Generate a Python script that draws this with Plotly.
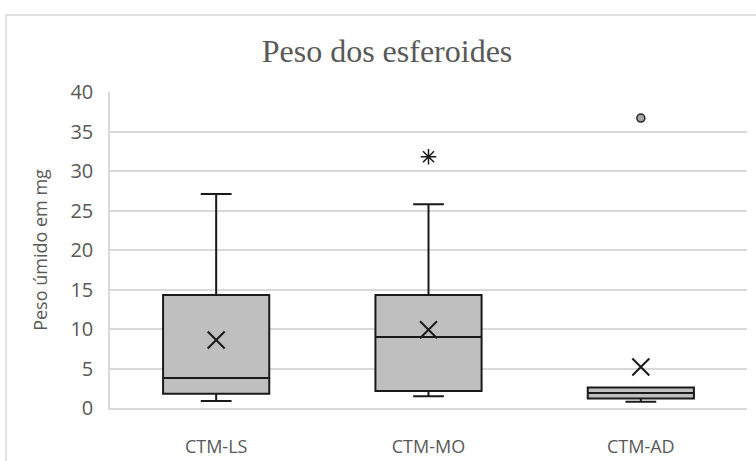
import plotly.graph_objects as go

categories = ["CTM-LS", "CTM-MO", "CTM-AD"]
q1 = [1.8, 2.15, 1.2]
median = [3.8, 9.0, 1.9]
q3 = [14.3, 14.3, 2.6]
lower = [0.9, 1.5, 0.8]
upper = [27.1, 25.8, 2.6]
means = [8.6, 9.9, 5.2]
outlier_star_cat = ["CTM-MO"]
outlier_star_val = [31.8]
outlier_dot_cat = ["CTM-AD"]
outlier_dot_val = [36.7]
y_ticks = [0, 5, 10, 15, 20, 25, 30, 35, 40]

fig = go.Figure()
fig.add_trace(go.Box(
    x=categories, q1=q1, median=median, q3=q3,
    lowerfence=lower, upperfence=upper,
    boxpoints=False, fillcolor="#bfbfbf",
    line=dict(color="#1a1a1a", width=2), whiskerwidth=0.29,
    showlegend=False, hoverinfo="skip",
))
fig.add_trace(go.Scatter(
    x=categories, y=means, mode="markers",
    marker=dict(symbol="x-thin", size=17, color="#1a1a1a",
                line=dict(color="#1a1a1a", width=2)),
    showlegend=False,
))
fig.add_trace(go.Scatter(
    x=outlier_star_cat, y=outlier_star_val, mode="markers",
    marker=dict(symbol="asterisk-open", size=13, color="#1a1a1a",
                line=dict(color="#1a1a1a", width=1.5)),
    showlegend=False,
))
fig.add_trace(go.Scatter(
    x=outlier_dot_cat, y=outlier_dot_val, mode="markers",
    marker=dict(symbol="circle", size=8, color="#a6a6a6", line=dict(color="#262626", width=1.5)),
    showlegend=False,
))

L, R, T, B = 110, 9, 92, 53
W, H = 756, 461
pw, ph = W - L - R, H - T - B
fig.update_layout(
    width=W, height=H,
    margin=dict(l=L, r=R, t=T, b=B),
    paper_bgcolor="white", plot_bgcolor="white",
    boxgap=0.5, boxgroupgap=0,
    title=dict(text="Peso dos esferoides", x=387 / W, xanchor="center",
               y=1 - 51 / H, yanchor="middle",
               font=dict(family="Liberation Serif", size=32, color="#595959")),
    font=dict(family="Open Sans", color="#595959"),
    xaxis=dict(type="category", categoryorder="array", categoryarray=categories,
               range=[-0.5, 2.5], showgrid=False, showline=True, automargin=False,
               linecolor="#d9d9d9", linewidth=1.5, ticks="",
               tickfont=dict(size=18, color="#595959"), ticklabelstandoff=22),
    yaxis=dict(range=[0, 40], tickvals=y_ticks, showgrid=True, automargin=False,
               gridcolor="#d9d9d9", gridwidth=1.5, zeroline=False,
               showline=True, linecolor="#d9d9d9", linewidth=1.5, ticks="",
               tickfont=dict(size=20, color="#595959"), ticklabelstandoff=11,
               title=dict(text="Peso úmido em mg", font=dict(size=18, color="#595959"),
                          standoff=18)),
    shapes=[dict(type="rect", xref="paper", yref="paper",
                 x0=(6 - L) / pw, x1=(W + 20 - L) / pw,
                 y0=-(20 + B) / ph, y1=(H - B - 15) / ph,
                 line=dict(color="#d9d9d9", width=1.5), fillcolor="rgba(0,0,0,0)",
                 layer="below")],
)
fig.write_html("out.html", config={"displayModeBar": False},
               post_script="document.body.style.margin='0';")
